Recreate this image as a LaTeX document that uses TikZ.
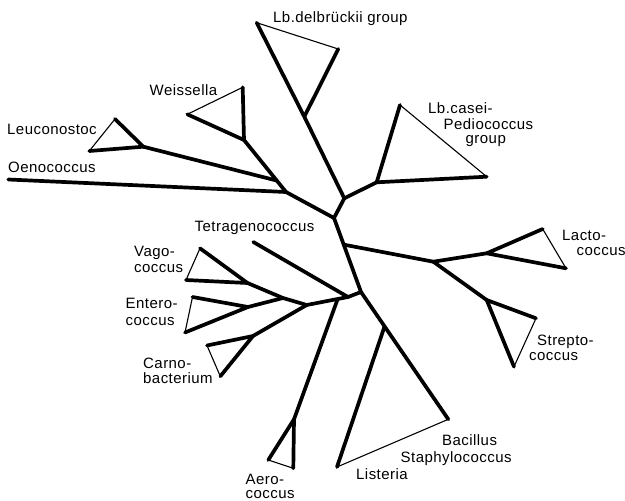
\documentclass[tikz,border=0pt]{standalone}
\usepackage{fontspec}
\setmainfont{Liberation Sans}[LetterSpace=3]
\usetikzlibrary{calc}
\begin{document}
\begin{tikzpicture}[x=1pt,y=-1pt,
  br/.style={line width=3.7pt,line cap=round,line join=round},
  tn/.style={line width=1.1pt,line cap=round,line join=round},
  lbl/.style={inner sep=0pt,anchor=base west,font=\fontsize{15}{18}\selectfont}]
\useasboundingbox[fill=white] (0,0) rectangle (625,501);
% --- coordinates
\coordinate (dA) at (256.7,22.7);
\coordinate (dR) at (338.3,49);
\coordinate (dV) at (304.3,116.7);
\coordinate (A) at (344.3,198.3);
\coordinate (cV) at (376.7,182.3);
\coordinate (cA) at (400,105);
\coordinate (cR) at (486.7,176.7);
\coordinate (B) at (334,218);
\coordinate (C) at (286,192);
\coordinate (wA) at (242.7,87.3);
\coordinate (wL) at (187.3,114.3);
\coordinate (wV) at (244,140);
\coordinate (LJ) at ($(wV)!0.78!(C)$);
\coordinate (lA) at (115,119);
\coordinate (lL) at (89.3,151);
\coordinate (lV) at (143.3,146.7);
\coordinate (oE) at (8.3,179.5);
\coordinate (E) at (361,292);
\coordinate (FJ) at ($(B)!0.36!(E)$);
\coordinate (F) at (433.3,261.7);
\coordinate (laV) at (486.7,253.3);
\coordinate (laA) at (542.7,229);
\coordinate (laL) at (566,268.3);
\coordinate (sV) at (486.7,300);
\coordinate (sR) at (536,318.3);
\coordinate (sB) at (514,366.7);
\coordinate (BS) at (448.3,419.3);
\coordinate (M) at ($(E)!0.27!(BS)$);
\coordinate (Li) at (337,467);
\coordinate (H) at (348,297);
\coordinate (T) at (253.3,242);
\coordinate (I) at (306.7,305);
\coordinate (J) at ($(H)!0.25!(I)$);
\coordinate (aV) at (294,419.3);
\coordinate (aL) at (268.3,460);
\coordinate (aB) at (293.3,468.3);
\coordinate (K) at (283,298);
\coordinate (vV) at (247.5,283);
\coordinate (vA) at (200,248.3);
\coordinate (vL) at (186,280);
\coordinate (eV) at (248,307);
\coordinate (eU) at (192.5,297);
\coordinate (eL) at (185,332.5);
\coordinate (caV) at (253,336);
\coordinate (caU) at (207,345.5);
\coordinate (caL) at (220.3,376.3);
% --- branches
\draw[br] (dA) -- (dV) -- (A);
\draw[br] (dR) -- (dV);
\draw[tn] (dA) -- (dR);
\draw[br] (A) -- (cV);
\draw[br] (cA) -- (cV) -- (cR);
\draw[tn] (cA) -- (cR);
\draw[br] (A) -- (B);
\draw[br] (C) -- (B);
\draw[br] (oE) -- (C);
\draw[br] (wV) -- (C);
\draw[br] (wA) -- (wV) -- (wL);
\draw[tn] (wA) -- (wL);
\draw[br] (lV) -- (LJ);
\draw[br] (lA) -- (lV) -- (lL);
\draw[tn] (lA) -- (lL);
\draw[br] (B) -- (E);
\draw[br] (FJ) -- (F);
\draw[br] (F) -- (laV);
\draw[br] (laA) -- (laV) -- (laL);
\draw[tn] (laA) -- (laL);
\draw[br] (F) -- (sV);
\draw[br] (sR) -- (sV) -- (sB);
\draw[tn] (sR) -- (sB);
\draw[br] (E) -- (BS);
\draw[br] (M) -- (Li);
\draw[tn] (BS) -- (Li);
\draw[br] (E) -- (H);
\draw[br] (T) -- (H);
\draw[br] (H) -- (I);
\draw[br] (J) -- (aV);
\draw[br] (aL) -- (aV) -- (aB);
\draw[tn] (aL) -- (aB);
\draw[br] (I) -- (K);
\draw[br] (K) -- (vV);
\draw[br] (vA) -- (vV) -- (vL);
\draw[tn] (vA) -- (vL);
\draw[br] (K) -- (eV);
\draw[br] (eU) -- (eV) -- (eL);
\draw[tn] (eU) -- (eL);
\draw[br] (I) -- (caV);
\draw[br] (caU) -- (caV) -- (caL);
\draw[tn] (caU) -- (caL);
% --- labels
\node[lbl] (tdel) at (273,22.7) {Lb.delbrückii group};
\node[lbl] (tcas1) at (428,113.3) {Lb.casei-};
\node[lbl] (tcas2) at (443.5,129.3) {Pediococcus};
\node[lbl] (tcas3) at (465.5,143.3) {group};
\node[lbl] (twei) at (149.5,95.5) {Weissella};
\node[lbl] (tleu) at (7,134) {Leuconostoc};
\node[lbl] (toen) at (8,172.5) {Oenococcus};
\node[lbl] (ttet) at (194.5,231.7) {Tetragenococcus};
\node[lbl] (tvag1) at (134,256.7) {Vago-};
\node[lbl] (tvag2) at (134,272.7) {coccus};
\node[lbl] (tent1) at (125.5,308.3) {Entero-};
\node[lbl] (tent2) at (125.5,325) {coccus};
\node[lbl] (tcar1) at (143,368.3) {Carno-};
\node[lbl] (tcar2) at (143,383.3) {bacterium};
\node[lbl] (taer1) at (245.5,484.3) {Aero-};
\node[lbl] (taer2) at (245.5,498.5) {coccus};
\node[lbl] (tlis) at (356,479.3) {Listeria};
\node[lbl] (tbac) at (442,445) {Bacillus};
\node[lbl] (tsta) at (400.5,462) {Staphylococcus};
\node[lbl] (tlac1) at (562,240) {Lacto-};
\node[lbl] (tlac2) at (576.5,255) {coccus};
\node[lbl] (tstr1) at (537,345) {Strepto-};
\node[lbl] (tstr2) at (529,360) {coccus};
\end{tikzpicture}
\end{document}
